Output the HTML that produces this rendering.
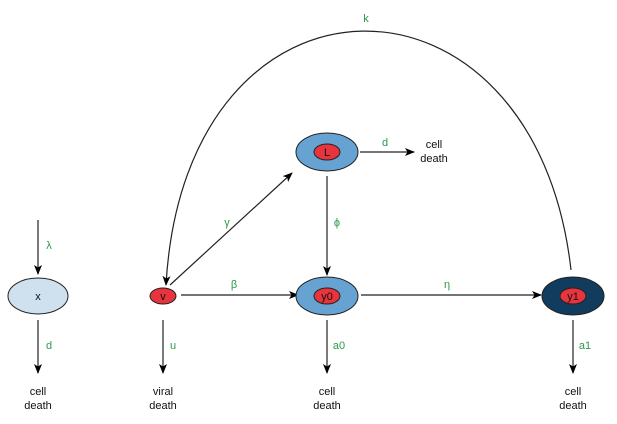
<!DOCTYPE html>
<html><head><style>
html,body{margin:0;padding:0;background:#fff;}
svg{display:block;font-family:"Liberation Sans","DejaVu Sans",sans-serif;}
.g{fill:#2a9a4a;font-size:11px;text-anchor:middle;}
.t{fill:#111;font-size:11px;text-anchor:middle;}
</style></head><body>
<svg width="617" height="424" viewBox="0 0 617 424">
<defs>
<marker id="a" markerWidth="10" markerHeight="8" refX="9" refY="4" orient="auto" markerUnits="userSpaceOnUse">
<path d="M0,0 L10,4 L0,8 L2.5,4 Z" fill="#000"/>
</marker>
</defs>
<g stroke="#222" stroke-width="1.2" fill="none">
<line x1="38" y1="220" x2="38" y2="274" marker-end="url(#a)"/>
<line x1="38" y1="320" x2="38" y2="373" marker-end="url(#a)"/>
<line x1="163" y1="320" x2="163" y2="373" marker-end="url(#a)"/>
<line x1="327" y1="320" x2="327" y2="373" marker-end="url(#a)"/>
<line x1="573" y1="320" x2="573" y2="373" marker-end="url(#a)"/>
<line x1="181" y1="295" x2="298" y2="295" marker-end="url(#a)"/>
<line x1="361" y1="295" x2="541" y2="295" marker-end="url(#a)"/>
<line x1="327" y1="176" x2="327" y2="275" marker-end="url(#a)"/>
<line x1="360" y1="152" x2="414" y2="152" marker-end="url(#a)"/>
<line x1="170" y1="285" x2="292" y2="173" marker-end="url(#a)"/>
<path d="M571,270 C535,-51 185,-51 166,285" marker-end="url(#a)"/>
</g>
<g stroke="#222" stroke-width="1">
<ellipse cx="38" cy="296" rx="30" ry="18" fill="#cfe0ef"/>
<ellipse cx="163" cy="296" rx="13" ry="8" fill="#e8343c"/>
<ellipse cx="327" cy="152" rx="31" ry="19" fill="#66a3d2"/>
<ellipse cx="327" cy="152" rx="13" ry="8" fill="#e8343c"/>
<ellipse cx="327" cy="296" rx="31" ry="19" fill="#66a3d2"/>
<ellipse cx="327" cy="296" rx="13" ry="8" fill="#e8343c"/>
<ellipse cx="573" cy="296" rx="31" ry="19" fill="#123c5e"/>
<ellipse cx="573" cy="296" rx="13" ry="8" fill="#e8343c"/>
</g>
<text class="t" x="38" y="300">x</text>
<text class="t" x="163" y="300">v</text>
<text class="t" x="327" y="156">L</text>
<text class="t" x="327" y="300">y0</text>
<text class="t" x="573" y="300">y1</text>
<text class="g" x="49" y="249">λ</text>
<text class="g" x="49" y="349">d</text>
<text class="g" x="173" y="349">u</text>
<text class="g" x="339" y="349">a0</text>
<text class="g" x="585" y="349">a1</text>
<text class="g" x="234" y="288">β</text>
<text class="g" x="447" y="288">η</text>
<text class="g" x="337" y="226">ϕ</text>
<text class="g" x="385" y="146">d</text>
<text class="g" x="227" y="226">γ</text>
<text class="g" x="366" y="22">k</text>
<text class="t" x="38" y="395">cell</text><text class="t" x="38" y="409">death</text>
<text class="t" x="163" y="395">viral</text><text class="t" x="163" y="409">death</text>
<text class="t" x="327" y="395">cell</text><text class="t" x="327" y="409">death</text>
<text class="t" x="573" y="395">cell</text><text class="t" x="573" y="409">death</text>
<text class="t" x="434" y="148">cell</text><text class="t" x="434" y="162">death</text>
</svg>
</body></html>
